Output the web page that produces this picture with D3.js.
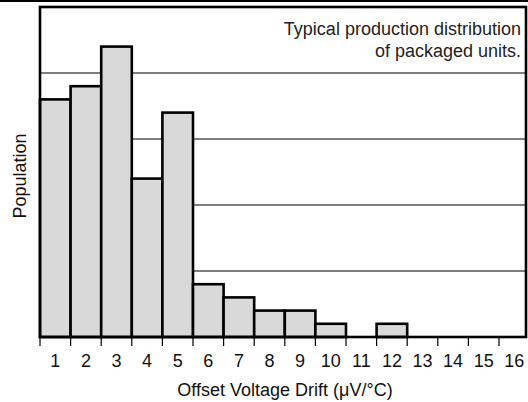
<!DOCTYPE html>
<html><head><meta charset="utf-8">
<script src="https://cdn.jsdelivr.net/npm/d3@7"></script>
<style>html,body{margin:0;padding:0;background:#fff;}svg{display:block;}</style>
</head><body>
<svg id="c" width="528" height="402"></svg>
<script>
const bins = [1,2,3,4,5,6,7,8,9,10,11,12,13,14,15,16];
const population = [18,19,22,12,17,4,3,2,2,1,0,1,0,0,0,0];
const gridValues = [5,10,15,20];
const xTitle = "Offset Voltage Drift (\u03bcV/\u00b0C)";
const yTitle = "Population";
const note = ["Typical production distribution", "of packaged units."];

const svg = d3.select("#c");
const font = "'Liberation Sans', Arial, sans-serif";
const L = 40, T = 7, B = 337, R = 526, bw = 30.6;
const x = d3.scaleLinear().domain([0,16]).range([L, L + 16*bw]);
const y = d3.scaleLinear().domain([0,25]).range([B, T]);

// top page rule
svg.append("line").attr("x1",0).attr("x2",528).attr("y1",1).attr("y2",1)
  .attr("stroke","#000").attr("stroke-width",2);

// gridlines
svg.append("g").selectAll("line").data(gridValues).join("line")
  .attr("x1",L).attr("x2",R).attr("y1",d=>y(d)).attr("y2",d=>y(d))
  .attr("stroke","#000").attr("stroke-width",1.2);

// bars
svg.append("g").selectAll("rect").data(bins.map((b,i)=>({b,v:population[i]})).filter(d=>d.v>0)).join("rect")
  .attr("x",d=>x(d.b-1)).attr("width",d=>x(d.b)-x(d.b-1))
  .attr("y",d=>y(d.v)).attr("height",d=>y(0)-y(d.v))
  .attr("fill","#d9d9d9").attr("stroke","#000").attr("stroke-width",2.6);

// frame
svg.append("rect").attr("x",L).attr("y",T).attr("width",R-L).attr("height",B-T)
  .attr("fill","none").attr("stroke","#000").attr("stroke-width",2.6);

// ticks at bin boundaries
svg.append("g").selectAll("line").data(d3.range(0,16)).join("line")
  .attr("x1",d=>x(d)).attr("x2",d=>x(d)).attr("y1",B).attr("y2",B+9)
  .attr("stroke","#000").attr("stroke-width",1.2);

// tick labels at bin centres
svg.append("g").selectAll("text").data(bins).join("text")
  .attr("x",d=>x(d-0.5)).attr("y",367).attr("text-anchor","middle")
  .attr("font-family",font).attr("font-size",18).attr("fill","#111").text(d=>d);

svg.append("text").attr("x",285).attr("y",396).attr("text-anchor","middle")
  .attr("font-family",font).attr("font-size",18).attr("fill","#111").text(xTitle);

svg.append("text").attr("transform",`translate(26,${(T+B)/2 + 4}) rotate(-90)`)
  .attr("text-anchor","middle").attr("font-family",font).attr("font-size",18)
  .attr("fill","#111").text(yTitle);

svg.append("g").selectAll("text").data(note).join("text")
  .attr("x",521).attr("y",(d,i)=>35+i*22).attr("text-anchor","end")
  .attr("font-family",font).attr("font-size",18).attr("fill","#222").text(d=>d);
</script>
</body></html>
